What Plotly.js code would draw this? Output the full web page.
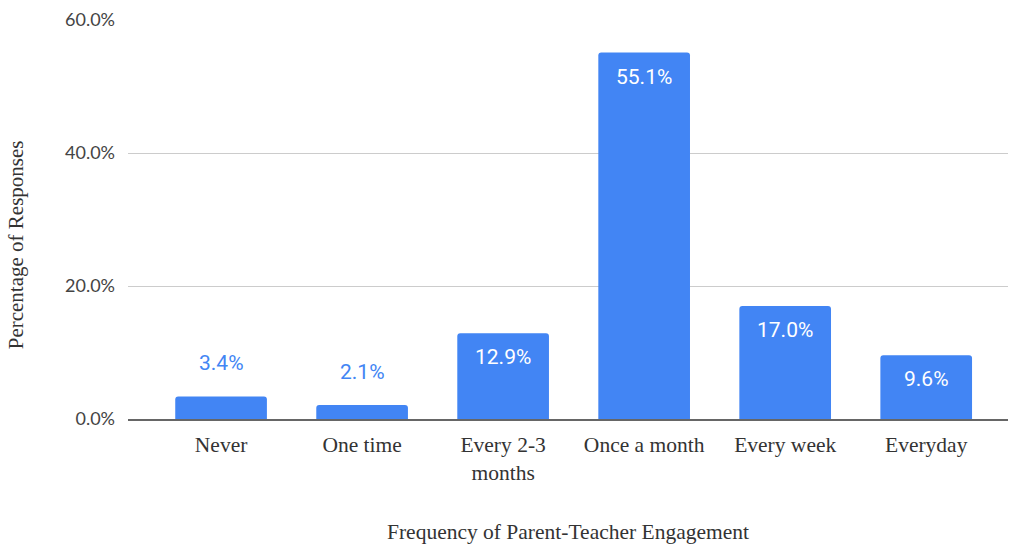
<!DOCTYPE html>
<html>
<head>
<meta charset="utf-8">
<script src="https://cdn.plot.ly/plotly-3.0.1.min.js"></script>
<style>html,body{margin:0;padding:0;background:#fff}#chart{width:1010px;height:544px}</style>
</head>
<body>
<div id="chart"></div>
<script>
const categories = ["Never", "One time", "Every 2-3<br>months", "Once a month", "Every week", "Everyday"];
const values = [3.4, 2.1, 12.9, 55.1, 17.0, 9.6];
const labels = ["3.4%", "2.1%", "12.9%", "55.1%", "17.0%", "9.6%"];
const yTickVals = [0, 20, 40, 60];
const yTickText = ["0.0%", "20.0%", "40.0%", "60.0%"];
const xTitle = "Frequency of Parent-Teacher Engagement";
const yTitle = "Percentage of Responses";

const barColor = "#4285F4";
const insideThreshold = 8;
const serif = "Liberation Serif, serif";

const annotations = values.map((v, i) => {
  const inside = v >= insideThreshold;
  return {
    x: categories[i], y: v, xref: "x", yref: "y",
    text: labels[i], showarrow: false,
    yanchor: inside ? "top" : "bottom",
    yshift: inside ? -10 : 19,
    font: {family: "Roboto, sans-serif", size: 21, color: inside ? "#ffffff" : barColor}
  };
});
annotations.push({
  text: yTitle, textangle: -90, showarrow: false,
  xref: "paper", yref: "paper", x: -0.127, y: 0.436,
  xanchor: "center", yanchor: "middle",
  font: {family: serif, size: 21, color: "#333"}
});

const trace = {
  type: "bar", x: categories, y: values,
  marker: {color: barColor, cornerradius: 3},
  width: 0.65, hoverinfo: "none"
};

const layout = {
  width: 1010, height: 544,
  margin: {l: 128, r: 2, t: 20, b: 125},
  paper_bgcolor: "#fff", plot_bgcolor: "#fff",
  showlegend: false,
  xaxis: {
    type: "category", range: [-0.66, 5.58],
    showgrid: false, showline: true, linecolor: "#666", linewidth: 1.5,
    ticks: "", zeroline: false, ticklabelstandoff: 6,
    tickfont: {family: serif, size: 21.5, color: "#333"},
    title: {text: xTitle, standoff: 45,
            font: {family: serif, size: 21.5, color: "#333"}}
  },
  yaxis: {
    range: [0, 60], tickvals: yTickVals, ticktext: yTickText,
    showgrid: true, gridcolor: "#cccccc", gridwidth: 1, zeroline: false,
    showline: false, ticks: "", ticklabelstandoff: 12,
    tickfont: {family: "Lato, sans-serif", size: 18, color: "#444"}
  },
  annotations: annotations
};

Plotly.newPlot("chart", [trace], layout, {displayModeBar: false, staticPlot: true});
</script>
</body>
</html>
